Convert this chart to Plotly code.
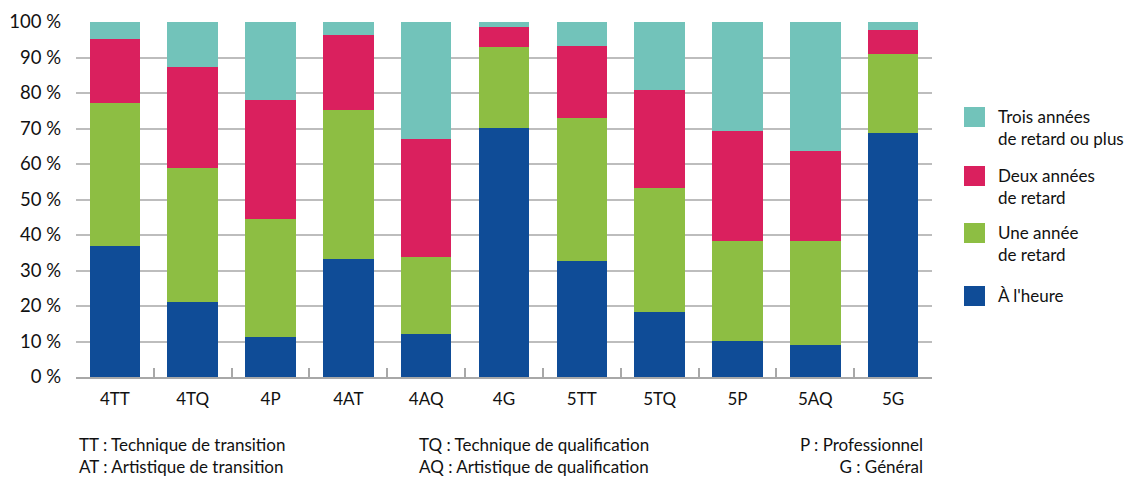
import plotly.graph_objects as go

# Classes (année + forme d'enseignement)
categories = ["4TT", "4TQ", "4P", "4AT", "4AQ", "4G", "5TT", "5TQ", "5P", "5AQ", "5G"]

# Répartition des élèves selon le retard scolaire (%)
a_l_heure = [36.9, 21.1, 11.2, 33.2, 12.1, 70.2, 32.6, 18.3, 10.1, 8.9, 68.8]
une_annee = [40.3, 37.9, 33.3, 42.1, 21.7, 22.8, 40.4, 34.9, 28.2, 29.4, 22.3]
deux_annees = [18.1, 28.4, 33.6, 20.9, 33.3, 5.7, 20.3, 27.7, 31.0, 25.4, 6.7]
trois_annees = [4.7, 12.6, 21.9, 3.8, 32.9, 1.3, 6.7, 19.1, 30.7, 36.3, 2.2]

y_ticks = list(range(0, 101, 10))
y_tick_labels = [f"{v} %" for v in y_ticks]

series = [
    ("À l'heure", a_l_heure, "#0F4C97"),
    ("Une année<br>de retard", une_annee, "#8DBE43"),
    ("Deux années<br>de retard", deux_annees, "#DA205E"),
    ("Trois années<br>de retard ou plus", trois_annees, "#72C3BA"),
]

FONT = "Lato"
TXT = "#111111"

fig = go.Figure()
for name, vals, color in series:
    fig.add_trace(go.Bar(x=categories, y=vals, name=name, marker_color=color,
                         marker_line_width=0, showlegend=False))

fig.update_layout(
    barmode="stack",
    bargap=0.35,
    width=1131, height=478,
    margin=dict(l=76, r=199, t=22, b=101),
    paper_bgcolor="white", plot_bgcolor="white",
    font=dict(family=FONT, size=17, color=TXT),
)

fig.update_xaxes(
    type="category", automargin=False,
    showline=True, linecolor="#a8a8a8", linewidth=2,
    ticks="inside", tickson="boundaries", ticklen=9, tickcolor="#a8a8a8", tickwidth=2,
    showgrid=False,
    tickfont=dict(family=FONT, size=17, color=TXT),
    ticklabelstandoff=6,
)
fig.update_yaxes(
    range=[0, 100], automargin=False,
    tickvals=y_ticks, ticktext=y_tick_labels,
    showgrid=True, gridcolor="#bdbdbd", gridwidth=2,
    zeroline=False, showline=False, ticks="",
    tickfont=dict(family=FONT, size=18.5, color=TXT),
    ticklabelstandoff=14,
)

# Légende dessinée à droite du graphique (ordre du haut vers le bas)
legend_items = list(reversed(series))
legend_y = [117, 176, 233, 296]  # centres des pastilles, en pixels depuis le haut
H = 478
for (name, vals, color), yc in zip(legend_items, legend_y):
    fig.add_shape(type="rect", xref="paper", yref="paper",
                  x0=(964 - 76) / 856, x1=(985 - 76) / 856,
                  y0=(H - 101 - (yc + 10)) / 355, y1=(H - 101 - (yc - 10)) / 355,
                  fillcolor=color, line_width=0)
    fig.add_annotation(xref="paper", yref="paper",
                       x=(996 - 76) / 856, y=(H - 101 - (yc - 13)) / 355,
                       xanchor="left", yanchor="top", align="left",
                       text=name, showarrow=False,
                       font=dict(family=FONT, size=17, color=TXT))

# Notes explicatives des abréviations
notes = [
    ("TT : Technique de transition<br>AT : Artistique de transition", 77, "left"),
    ("TQ : Technique de qualification<br>AQ : Artistique de qualification", 417, "left"),
    ("P : Professionnel<br>G : Général", 925, "right"),
]
for text, xp, anchor in notes:
    fig.add_annotation(xref="paper", yref="paper",
                       x=(xp - 76) / 856, y=-(432 - 377) / 355,
                       xanchor=anchor, yanchor="top", align=anchor,
                       text=text, showarrow=False,
                       font=dict(family=FONT, size=17, color=TXT))

fig.write_html("out.html")
